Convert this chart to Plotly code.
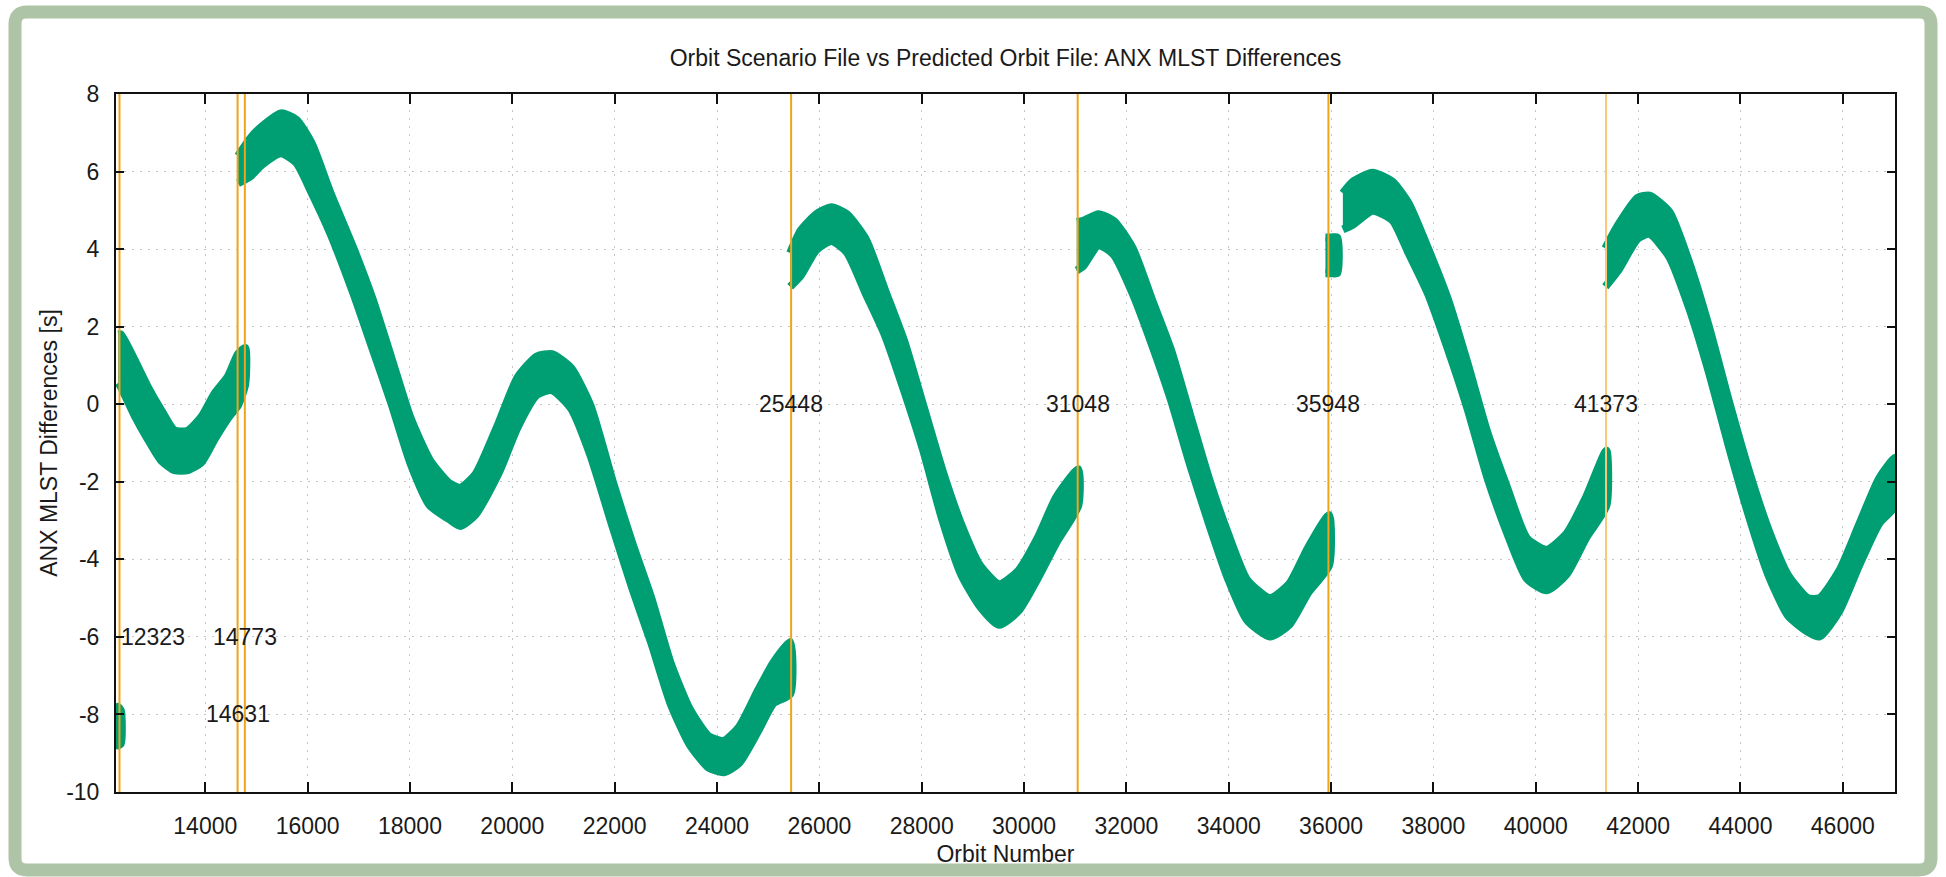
import plotly.graph_objects as go

# ---------------- data ----------------
title_text = "Orbit Scenario File vs Predicted Orbit File: ANX MLST Differences"
x_title = "Orbit Number"
y_title = "ANX MLST Differences [s]"

x_range = [12255, 47020]
y_range = [-10, 8]
x_ticks = [14000, 16000, 18000, 20000, 22000, 24000, 26000, 28000, 30000,
           32000, 34000, 36000, 38000, 40000, 42000, 44000, 46000]
y_ticks = [-10, -8, -6, -4, -2, 0, 2, 4, 6, 8]

# vertical event lines (orbit numbers) and their labels
event_orbits = [12323, 14631, 14773, 25448, 31048, 35948, 41373]
event_label_y = [-6, -8, -6, 0, 0, 0, 0]
event_label_align = ["left", "center", "center", "center", "center", "center", "center"]
event_line_colors = ["#f0a41c", "#f0a41c", "#f0a41c", "#f0a41c", "#f0a41c", "#f0a41c", "#f8c878"]

# green band segments: orbit, upper envelope, lower envelope
seg_a_x = [12250, 12290, 12350]
seg_a_up = [-7.85, -7.8, -7.9]
seg_a_lo = [-8.75, -8.8, -8.75]

seg_b_x = [12300, 12350, 12614, 12876, 13137, 13399, 13660, 13922, 14183, 14444, 14641, 14780]
seg_b_up = [1.8, 1.8, 1.15, 0.45, -0.15, -0.68, -0.68, -0.33, 0.28, 0.72, 1.3, 1.45]
seg_b_lo = [0.55, 0.45, -0.28, -0.9, -1.45, -1.7, -1.7, -1.5, -0.9, -0.36, -0.02, 0.52]

seg_c_x = [14640, 14881, 15104, 15478, 15776, 16075, 16448, 16896, 17269, 17642, 18015,
           18388, 18761, 18985, 19284, 19731, 20104, 20478, 20776, 21149, 21522, 21970,
           22343, 22716, 23090, 23463, 23836, 24134, 24433, 24806, 25104, 25430]
seg_c_up = [6.4, 6.86, 7.16, 7.5, 7.34, 6.74, 5.44, 4.02, 2.71, 1.17, -0.37,
            -1.44, -2.03, -2.15, -1.8, -0.49, 0.69, 1.23, 1.29, 0.93, -0.02, -2.03,
            -3.58, -5.0, -6.66, -7.85, -8.56, -8.68, -8.32, -7.37, -6.66, -6.13]
seg_c_lo = [5.7, 5.88, 6.17, 6.47, 6.23, 5.46, 4.39, 2.85, 1.43, 0.0, -1.54,
            -2.61, -2.96, -3.14, -2.84, -1.78, -0.59, 0.24, 0.36, -0.11, -1.3, -3.2,
            -4.74, -6.16, -7.71, -8.77, -9.37, -9.49, -9.25, -8.42, -7.71, -7.47]

seg_d_x = [25430, 25642, 25940, 26238, 26536, 26909, 27281, 27654, 28027, 28399, 28772,
           29144, 29517, 29890, 30262, 30635, 31060]
seg_d_up = [3.9, 4.49, 4.9, 5.08, 4.9, 4.25, 2.95, 1.64, -0.02, -1.68, -3.1,
            -4.17, -4.64, -4.29, -3.46, -2.39, -1.68]
seg_d_lo = [3.03, 3.33, 3.98, 4.21, 3.92, 2.85, 1.78, 0.36, -1.18, -2.96, -4.39,
            -5.22, -5.69, -5.33, -4.5, -3.56, -2.61]

seg_e_x = [31030, 31155, 31453, 31751, 32124, 32496, 32869, 33241, 33614, 33987, 34359,
           34806, 35179, 35551, 35960]
seg_e_up = [4.7, 4.73, 4.9, 4.73, 4.02, 2.71, 1.41, -0.26, -1.92, -3.34, -4.53,
            -5.0, -4.64, -3.7, -2.86]
seg_e_lo = [3.45, 3.56, 4.1, 3.86, 2.85, 1.55, 0.12, -1.54, -3.08, -4.5, -5.57,
            -5.99, -5.69, -4.86, -4.15]

seg_f_x = [35890, 36000, 36120]
seg_f_up = [4.3, 4.3, 4.3]
seg_f_lo = [3.38, 3.38, 3.38]

seg_g_x = [36230, 36425, 36812, 37198, 37507, 37894, 38281, 38667, 39054, 39440, 39827,
           40213, 40600, 40986, 41380]
seg_g_up = [5.44, 5.74, 5.97, 5.74, 5.2, 4.02, 2.71, 1.05, -0.73, -2.15, -3.46,
            -3.75, -3.34, -2.39, -1.2]
seg_g_lo = [4.51, 4.63, 4.99, 4.75, 3.92, 2.85, 1.43, -0.12, -1.89, -3.32, -4.5,
            -4.8, -4.39, -3.44, -2.61]

seg_h_x = [41360, 41605, 41991, 42223, 42610, 42996, 43383, 43769, 44156, 44542, 44929,
           45315, 45547, 45934, 46321, 46707, 47030]
seg_h_up = [4.02, 4.61, 5.32, 5.38, 4.96, 3.66, 2.0, 0.1, -1.68, -3.22, -4.41,
            -5.0, -5.0, -4.29, -3.1, -1.92, -1.38]
seg_h_lo = [3.03, 3.44, 4.27, 4.39, 3.8, 2.49, 0.83, -1.06, -2.84, -4.39, -5.45,
            -5.87, -5.99, -5.33, -4.15, -3.08, -2.61]

segments = [
    (seg_a_x, seg_a_up, seg_a_lo),
    (seg_b_x, seg_b_up, seg_b_lo),
    (seg_c_x, seg_c_up, seg_c_lo),
    (seg_d_x, seg_d_up, seg_d_lo),
    (seg_e_x, seg_e_up, seg_e_lo),
    (seg_f_x, seg_f_up, seg_f_lo),
    (seg_g_x, seg_g_up, seg_g_lo),
    (seg_h_x, seg_h_up, seg_h_lo),
]

# ---------------- styling / layout ----------------
W, H = 1946, 877
PL, PR, PT, PB = 116, 1895, 94, 792
FONT = "Liberation Sans, Arial, Helvetica, sans-serif"
GREEN = "#009e73"
TXT = "#1a1a1a"
FS = 23

fig = go.Figure()

for sx, up, lo in segments:
    fig.add_trace(go.Scatter(
        x=list(sx) + list(sx)[::-1],
        y=list(up) + list(lo)[::-1],
        mode="lines", fill="toself", fillcolor=GREEN,
        line=dict(color=GREEN, width=8, shape="spline", smoothing=0.6),
        hoverinfo="skip", showlegend=False,
    ))

for orb, col in zip(event_orbits, event_line_colors):
    fig.add_trace(go.Scatter(
        x=[orb, orb], y=y_range, mode="lines",
        line=dict(color=col, width=2),
        hoverinfo="skip", showlegend=False,
    ))

for orb, ly, al in zip(event_orbits, event_label_y, event_label_align):
    fig.add_annotation(x=orb, y=ly, xref="x", yref="y", text=str(orb),
                       showarrow=False, xanchor=al, yanchor="middle",
                       font=dict(family=FONT, size=FS, color=TXT))

# rounded green frame around the whole picture
def fx(p):
    return (p - PL) / (PR - PL)

def fy(p):
    return (PB - p) / (PB - PT)

L, R, T, B, r = 15, 1931, 12, 870, 12
frame = (f"M {fx(L + r)} {fy(T)} L {fx(R - r)} {fy(T)} Q {fx(R)} {fy(T)} {fx(R)} {fy(T + r)} "
         f"L {fx(R)} {fy(B - r)} Q {fx(R)} {fy(B)} {fx(R - r)} {fy(B)} "
         f"L {fx(L + r)} {fy(B)} Q {fx(L)} {fy(B)} {fx(L)} {fy(B - r)} "
         f"L {fx(L)} {fy(T + r)} Q {fx(L)} {fy(T)} {fx(L + r)} {fy(T)} Z")
fig.add_shape(type="path", path=frame, xref="paper", yref="paper",
              line=dict(color="#aec4a6", width=13), layer="above")

axis_common = dict(
    showline=True, linecolor="#111111", linewidth=2, mirror="ticks",
    ticks="inside", tickcolor="#111111", tickwidth=2,
    showgrid=True, gridcolor="#c4c4c4", gridwidth=1, griddash="2px,6px",
    zeroline=False, tickfont=dict(family=FONT, size=FS, color=TXT),
)

fig.update_xaxes(range=x_range, tickvals=x_ticks, ticktext=[str(v) for v in x_ticks],
                 ticklen=10, ticklabelstandoff=12,
                 title=dict(text=x_title, standoff=8,
                            font=dict(family=FONT, size=FS, color=TXT)),
                 **axis_common)
fig.update_yaxes(range=y_range, tickvals=y_ticks, ticktext=[str(v) for v in y_ticks],
                 ticklen=8, ticklabelstandoff=10,
                 title=dict(text=y_title, standoff=2,
                            font=dict(family=FONT, size=FS, color=TXT)),
                 **axis_common)

fig.update_layout(
    width=W, height=H,
    margin=dict(l=PL, r=W - PR, t=PT, b=H - PB, autoexpand=False),
    paper_bgcolor="white", plot_bgcolor="white",
    title=dict(text=title_text, x=0.5, xref="paper", y=1 - 58 / H, yref="container",
               xanchor="center", yanchor="middle",
               font=dict(family=FONT, size=FS, color=TXT)),
    showlegend=False,
)

fig.write_html("out.html", config={"displayModeBar": False},
               post_script="document.body.style.margin='0';document.body.style.overflow='hidden';")
